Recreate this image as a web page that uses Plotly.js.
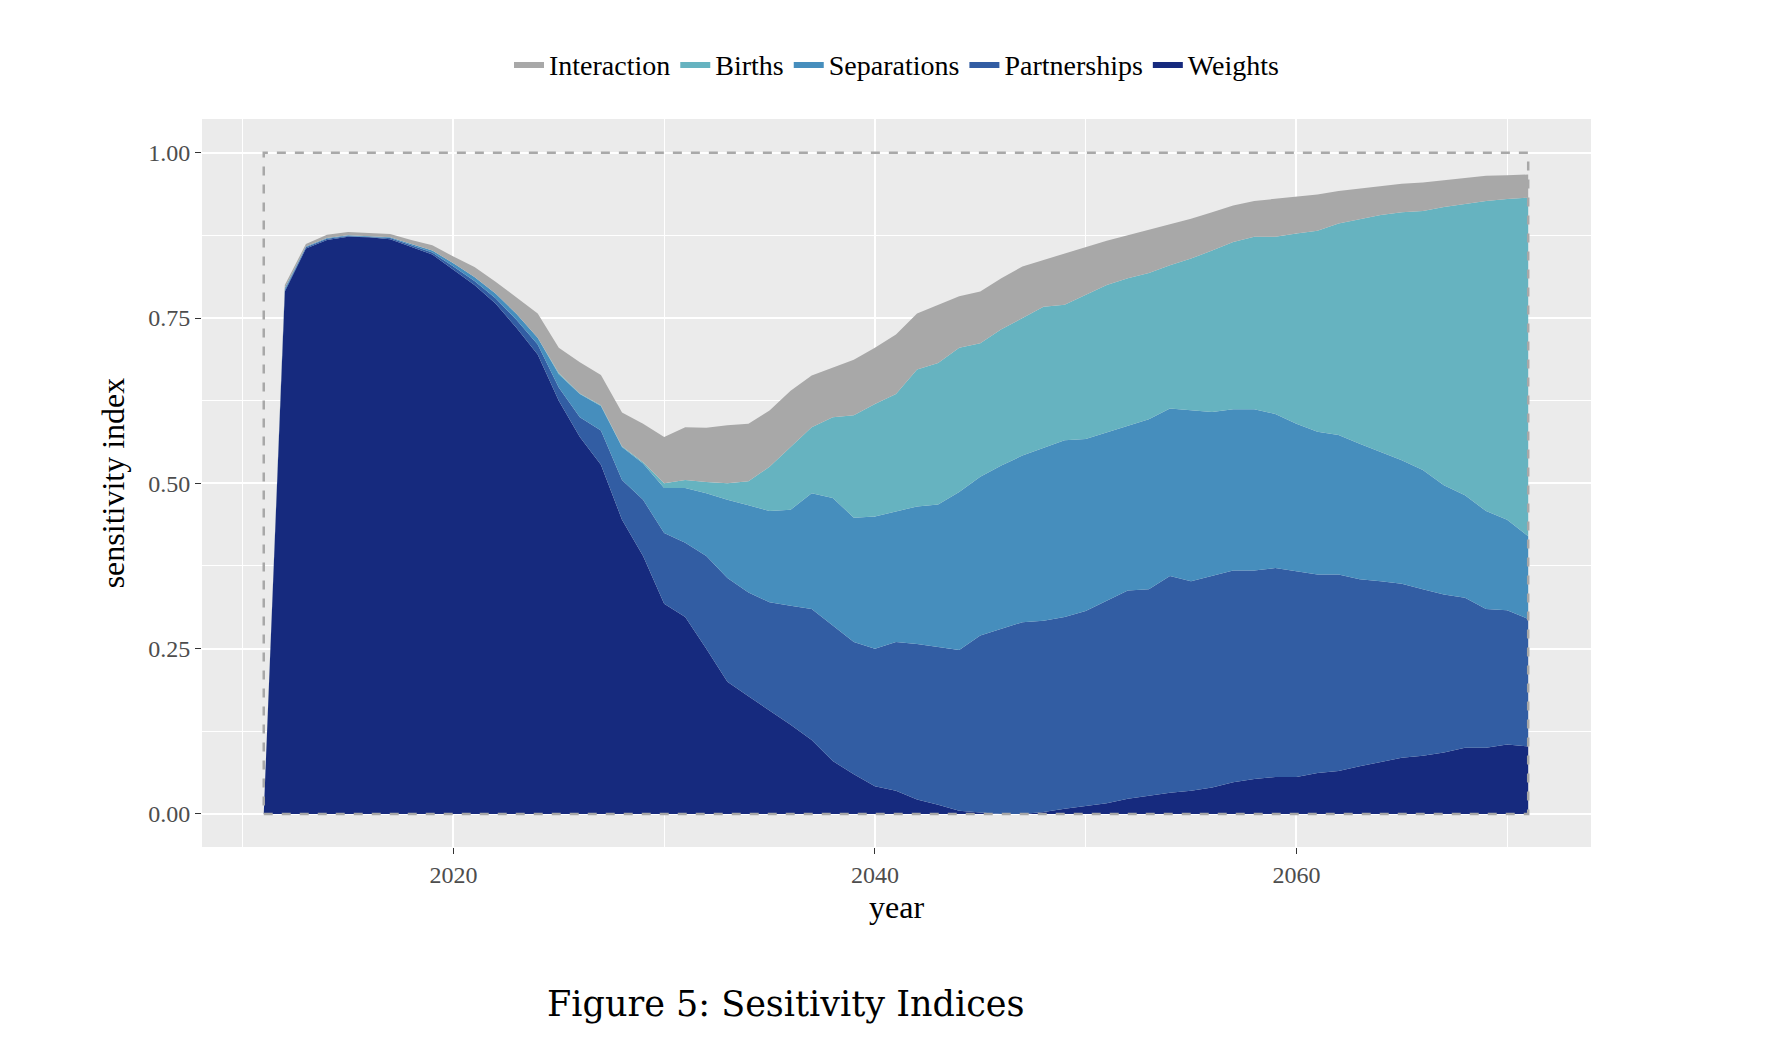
<!DOCTYPE html>
<html>
<head>
<meta charset="utf-8">
<script src="https://cdn.plot.ly/plotly-3.0.1.min.js"></script>
<style>html,body{margin:0;background:#fff}#chart{width:1768px;height:1048px}</style>
</head>
<body>
<div id="chart"></div>
<script>
  // years 2011..2071
  const years = [];
  for (let y = 2011; y <= 2071; y++) years.push(y);

  // cumulative tops of each stacked band
  const weightsTop = [0,0.79,0.855,0.868,0.873,0.872,0.869,0.858,0.846,0.823,0.80,0.772,0.735,0.695,0.625,0.57,0.528,0.445,0.39,0.318,0.298,0.25,0.20,0.178,0.157,0.135,0.112,0.08,0.06,0.042,0.035,0.022,0.014,0.005,0.002,0.0,0.0,0.003,0.008,0.012,0.016,0.023,0.028,0.032,0.035,0.04,0.048,0.053,0.056,0.056,0.062,0.065,0.072,0.078,0.085,0.088,0.093,0.1,0.1,0.105,0.102];
  const partnershipsTop = [0,0.792,0.857,0.870,0.874,0.873,0.871,0.860,0.849,0.828,0.806,0.78,0.747,0.71,0.645,0.6,0.58,0.505,0.475,0.425,0.41,0.39,0.357,0.335,0.32,0.315,0.31,0.285,0.26,0.25,0.26,0.257,0.252,0.248,0.27,0.28,0.29,0.292,0.298,0.307,0.323,0.338,0.34,0.36,0.352,0.36,0.368,0.368,0.372,0.367,0.362,0.362,0.355,0.352,0.348,0.34,0.332,0.327,0.31,0.308,0.295];
  const separationsTop = [0,0.795,0.858,0.871,0.875,0.874,0.872,0.862,0.852,0.833,0.812,0.787,0.756,0.72,0.665,0.635,0.617,0.555,0.53,0.493,0.493,0.485,0.475,0.467,0.458,0.46,0.485,0.478,0.448,0.45,0.458,0.465,0.468,0.487,0.51,0.527,0.542,0.553,0.565,0.567,0.577,0.587,0.597,0.613,0.61,0.608,0.612,0.612,0.605,0.59,0.578,0.573,0.56,0.548,0.535,0.52,0.497,0.482,0.458,0.445,0.42];
  const birthsTop = [0,0.795,0.858,0.871,0.875,0.874,0.872,0.862,0.852,0.833,0.812,0.787,0.756,0.72,0.667,0.636,0.618,0.556,0.532,0.50,0.505,0.502,0.50,0.503,0.525,0.555,0.585,0.60,0.603,0.62,0.635,0.672,0.682,0.705,0.712,0.733,0.75,0.767,0.77,0.785,0.80,0.81,0.818,0.83,0.84,0.852,0.865,0.873,0.873,0.878,0.882,0.893,0.90,0.906,0.91,0.912,0.918,0.923,0.927,0.93,0.932];
  const interactionTop = [0,0.80,0.862,0.876,0.880,0.878,0.877,0.868,0.860,0.843,0.827,0.805,0.781,0.757,0.705,0.683,0.664,0.607,0.59,0.57,0.585,0.584,0.588,0.59,0.61,0.64,0.663,0.675,0.687,0.705,0.725,0.757,0.77,0.783,0.79,0.81,0.828,0.838,0.847,0.858,0.867,0.875,0.883,0.892,0.90,0.91,0.92,0.927,0.93,0.933,0.937,0.942,0.946,0.95,0.953,0.955,0.958,0.962,0.965,0.966,0.967];

  const bands = [
    { name: "Weights", y: weightsTop, color: "#162a7e", fill: "tozeroy" },
    { name: "Partnerships", y: partnershipsTop, color: "#325da3", fill: "tonexty" },
    { name: "Separations", y: separationsTop, color: "#468ebd", fill: "tonexty" },
    { name: "Births", y: birthsTop, color: "#66b3c0", fill: "tonexty" },
    { name: "Interaction", y: interactionTop, color: "#a8a8a8", fill: "tonexty" },
  ];

  const traces = bands.map((b) => ({
    type: "scatter",
    mode: "lines",
    name: b.name,
    x: years,
    y: b.y,
    fill: b.fill,
    fillcolor: b.color,
    line: { width: 0, color: b.color },
    hoverinfo: "skip",
  }));

  const font = "Liberation Serif, Times New Roman, serif";

  const layout = {
    width: 1768,
    height: 1048,
    paper_bgcolor: "#ffffff",
    plot_bgcolor: "#ebebeb",
    margin: { l: 202, r: 177, t: 119, b: 201 },
    font: { family: font, color: "#000" },
    showlegend: true,
    legend: {
      orientation: "h",
      traceorder: "reversed",
      x: 0.5, xanchor: "center",
      y: 1.075, yanchor: "middle",
      font: { size: 28, family: font },
      itemwidth: 30,
    },
    xaxis: {
      range: [2008.07, 2073.98],
      tickvals: [2020, 2040, 2060],
      ticks: "outside", ticklen: 6, tickcolor: "#333",
      tickfont: { size: 24, color: "#4d4d4d", family: font },
      showgrid: true, gridcolor: "#ffffff", gridwidth: 2,
      minor: { tickvals: [2010, 2030, 2050, 2070], showgrid: true, gridcolor: "#ffffff", gridwidth: 1 },
      zeroline: false, showline: false,
      title: { text: "year", font: { size: 32, family: font }, standoff: 8 },
    },
    yaxis: {
      range: [-0.05, 1.051],
      tickvals: [0, 0.25, 0.5, 0.75, 1],
      ticktext: ["0.00", "0.25", "0.50", "0.75", "1.00"],
      ticks: "outside", ticklen: 6, tickcolor: "#333",
      tickfont: { size: 24, color: "#4d4d4d", family: font },
      showgrid: true, gridcolor: "#ffffff", gridwidth: 2,
      minor: { tickvals: [0.125, 0.375, 0.625, 0.875], showgrid: true, gridcolor: "#ffffff", gridwidth: 1 },
      zeroline: false, showline: false,
      title: { text: "sensitivity index", font: { size: 32, family: font }, standoff: 14 },
    },
    shapes: [{
      type: "rect", xref: "x", yref: "y",
      x0: years[0], x1: years[years.length - 1], y0: 0, y1: 1,
      line: { color: "#a8a8a8", width: 2.5, dash: "dash" },
      layer: "above",
    }],
    annotations: [{
      text: "Figure 5: Sesitivity Indices",
      xref: "paper", yref: "paper", x: 0.42, y: -0.215,
      xanchor: "center", yanchor: "middle", showarrow: false,
      font: { size: 35, family: "DejaVu Serif, Liberation Serif, serif", color: "#000" },
    }],
  };

  Plotly.newPlot("chart", traces, layout, { staticPlot: true });
</script>
</body>
</html>
